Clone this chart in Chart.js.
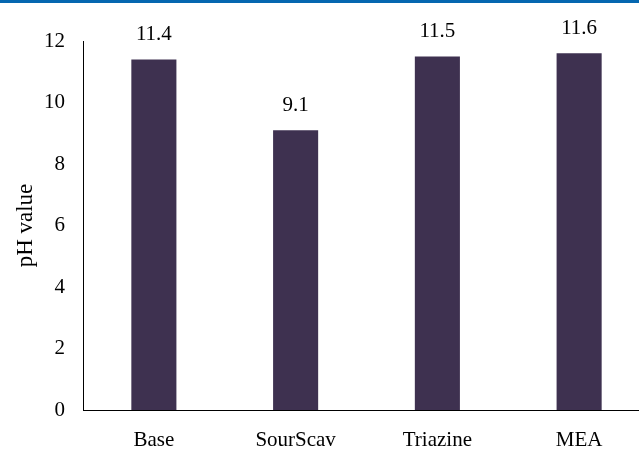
<!DOCTYPE html>
<html>
<head>
<meta charset="utf-8">
<script src="https://cdn.jsdelivr.net/npm/chart.js@4"></script>
<style>
  html, body { margin: 0; padding: 0; background: #fff; overflow: hidden; }
  #topline { position: absolute; left: 0; top: 0; width: 639px; height: 3px; background: #0567b0; }
  #wrap { position: absolute; left: 0; top: 0; width: 652px; height: 450px; }
</style>
</head>
<body>
<div id="wrap"><canvas id="chart"></canvas></div>
<div id="topline"></div>
<script>
// pH values
const categories = ['Base', 'SourScav', 'Triazine', 'MEA'];
const phValues = [11.4, 9.1, 11.5, 11.6];
const yTicks = [0, 2, 4, 6, 8, 10, 12];

const FONT = '"Liberation Serif", "Times New Roman", serif';
const BAR_COLOR = '#3e3150';

// Value labels above each bar
const valueLabels = {
  id: 'valueLabels',
  afterDatasetsDraw(chart) {
    const ctx = chart.ctx;
    const meta = chart.getDatasetMeta(0);
    ctx.save();
    ctx.font = '21px ' + FONT;
    ctx.fillStyle = '#000';
    ctx.textAlign = 'center';
    ctx.textBaseline = 'alphabetic';
    meta.data.forEach((bar, i) => {
      ctx.fillText(phValues[i].toFixed(1), bar.x, bar.y - 19);
    });
    ctx.restore();
  }
};

new Chart(document.getElementById('chart'), {
  type: 'bar',
  data: {
    labels: categories,
    datasets: [{
      data: phValues,
      backgroundColor: BAR_COLOR,
      barPercentage: 0.318,
      categoryPercentage: 1
    }]
  },
  options: {
    responsive: true,
    maintainAspectRatio: false,
    animation: false,
    layout: { padding: { left: 12, right: 2, top: 41, bottom: 0 } },
    plugins: { legend: { display: false }, tooltip: { enabled: false } },
    scales: {
      x: {
        grid: { display: false, drawTicks: false },
        border: { color: '#000', width: 1 },
        ticks: { color: '#000', font: { family: FONT, size: 21 }, padding: 18 },
        afterFit(scale) { scale.height = 40; }
      },
      y: {
        min: 0,
        max: 12,
        afterBuildTicks(scale) { scale.ticks = yTicks.map(v => ({ value: v })); },
        grid: { display: false, drawTicks: false },
        border: { color: '#000', width: 1 },
        ticks: { color: '#000', font: { family: FONT, size: 21 }, padding: 18 },
        title: {
          display: true,
          text: 'pH value',
          color: '#000',
          font: { family: FONT, size: 23 },
          padding: { top: 0, bottom: 0 }
        },
        afterFit(scale) { scale.width = 71; }
      }
    }
  },
  plugins: [valueLabels]
});
</script>
</body>
</html>
